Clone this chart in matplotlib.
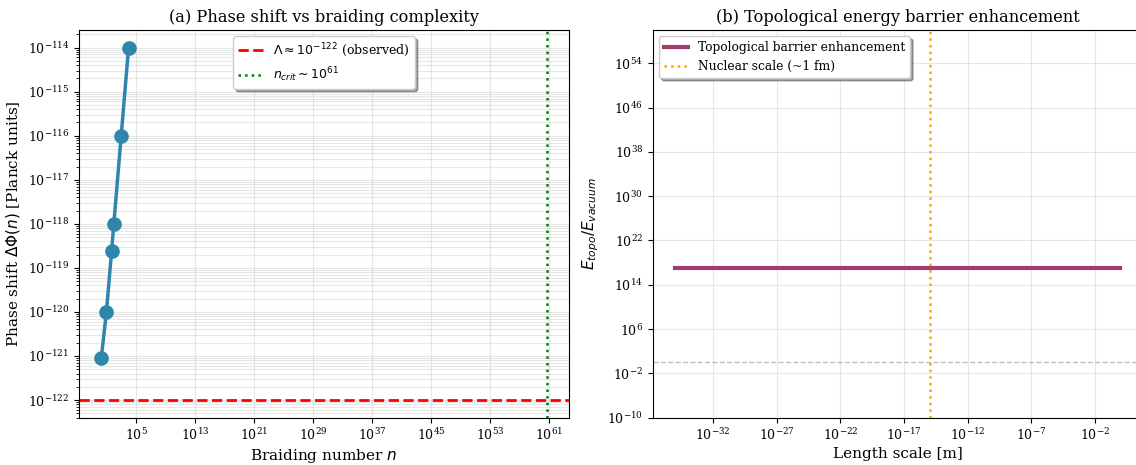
import matplotlib
matplotlib.use("Agg")
import matplotlib.pyplot as plt
import numpy as np

plt.rcParams['font.family'] = ['DejaVu Serif']

# Panel (a) data
braid_n = [2, 10, 50, 100, 1000, 10000]
phase_shift = [9e-122, 1e-120, 2.4e-119, 1e-118, 1e-116, 1e-114]
lambda_obs = 1e-122
n_crit = 4.5e60

# Panel (b) data
length_scale = [1e-35, 1e-30, 1e-25, 1e-20, 1e-15, 1e-10, 1e-5, 1e0]
energy_ratio = [1.2e17, 1.2e17, 1.2e17, 1.2e17, 1.2e17, 1.2e17, 1.2e17, 1.2e17]
nuclear_scale = 1e-15
unity = 1.0

W, H = 1136, 465
fig = plt.figure(figsize=(W / 100, H / 100), dpi=100)
ax1 = fig.add_axes([79 / W, (H - 417.7) / H, 490 / W, 387.7 / H])
ax2 = fig.add_axes([652.7 / W, (H - 417.7) / H, 490 / W, 387.7 / H])

fs = 11
# (a)
ax1.loglog(braid_n, phase_shift, 'o-', color='#2E86AB', linewidth=2.5, markersize=9.5)
ax1.axhline(lambda_obs, color='red', linestyle='--', linewidth=2,
            label=r'$\Lambda \approx 10^{-122}$ (observed)')
ax1.axvline(n_crit, color='green', linestyle=':', linewidth=1.8,
            label=r'$n_{crit} \sim 10^{61}$')
ax1.set_xlabel(r'Braiding number $n$', fontsize=fs, labelpad=3)
ax1.set_ylabel(r'Phase shift $\Delta\Phi(n)$ [Planck units]', fontsize=fs)
ax1.set_title('(a) Phase shift vs braiding complexity', fontsize=fs + 0.7)
ax1.grid(True, which='both', alpha=0.3)
ax1.tick_params(labelsize=9)
ax1.legend(loc='upper center', fontsize=9, shadow=True, fancybox=True)

# (b)
ax2.loglog(length_scale, energy_ratio, '-', color='#A23B72', linewidth=3,
           label='Topological barrier enhancement')
ax2.axvline(nuclear_scale, color='orange', linestyle=':', linewidth=1.8,
            label='Nuclear scale (~1 fm)')
ax2.axhline(unity, color='gray', linestyle='--', alpha=0.5, linewidth=1)
ax2.set_ylim(1e-10, 1e60)
ax2.set_xlabel('Length scale [m]', fontsize=fs, labelpad=3)
ax2.set_ylabel(r'$E_{topo}/E_{vacuum}$', fontsize=fs)
ax2.set_title('(b) Topological energy barrier enhancement', fontsize=fs + 0.7)
ax2.grid(True, alpha=0.3)
ax2.tick_params(labelsize=9)
ax2.legend(loc='upper left', fontsize=8.8, shadow=True, fancybox=True)

fig.savefig('out.png', dpi=100)
